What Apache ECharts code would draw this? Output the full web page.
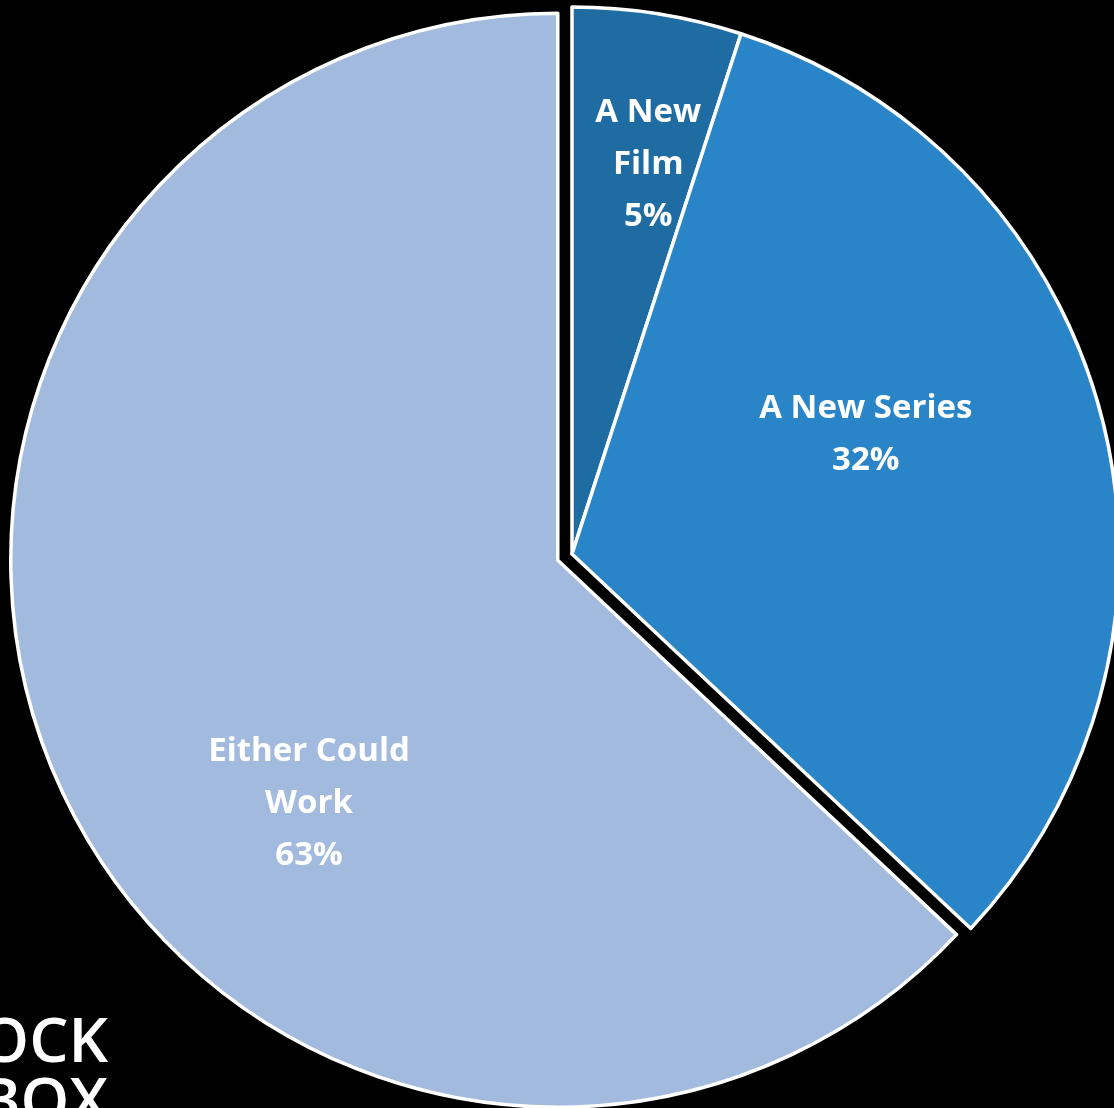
<!DOCTYPE html>
<html>
<head>
<meta charset="utf-8">
<title>Film or Series</title>
<script src="https://cdn.jsdelivr.net/npm/echarts@6/dist/echarts.min.js"></script>
<style>
  html, body { margin: 0; padding: 0; background: #000; }
  #chart { width: 1114px; height: 1108px; }
</style>
</head>
<body>
<div id="chart"></div>
<script>
// Survey answers: preferred format for a new story
const categories = ['A New\nFilm', 'A New Series', 'Either Could\nWork'];
const shares = [5, 32, 63];
const sliceColors = ['#1f6ca3', '#2985c7', '#a2badd'];
// The "Either" slice is pulled out from the rest
const pulledOut = [false, false, true];
// Fine placement of each label relative to its default inside spot
const labelShift = [[33, -116], [26, -51], [5, 134]];

const chart = echarts.init(document.getElementById('chart'), null, { renderer: 'canvas' });

const pieData = categories.map((name, i) => ({
  name: name,
  value: shares[i],
  selected: pulledOut[i],
  itemStyle: { color: sliceColors[i] }
}));

chart.setOption({
  backgroundColor: '#000000',
  animation: false,
  graphic: [
    {
      type: 'text',
      right: 1114 - 108,
      top: 1013,
      style: {
        text: 'OCK',
        fill: '#ffffff',
        font: '600 62px "Open Sans"',
        textAlign: 'right'
      }
    },
    {
      type: 'text',
      right: 1114 - 108,
      top: 1073,
      style: {
        text: 'BOX',
        fill: '#ffffff',
        font: '600 62px "Open Sans"',
        textAlign: 'right'
      }
    }
  ],
  series: [
    {
      type: 'pie',
      center: [572, 554],
      radius: 547,
      startAngle: 90,
      clockwise: true,
      selectedMode: 'single',
      selectedOffset: 15.5,
      avoidLabelOverlap: false,
      itemStyle: { borderColor: '#ffffff', borderWidth: 3.5 },
      label: {
        show: true,
        position: 'inside',
        color: '#ffffff',
        fontFamily: 'Open Sans',
        fontWeight: 700,
        fontSize: 33,
        lineHeight: 52,
        align: 'center',
        formatter: p => p.name + '\n' + p.value + '%'
      },
      labelLine: { show: false },
      labelLayout: params => ({ dx: labelShift[params.dataIndex][0], dy: labelShift[params.dataIndex][1] }),
      emphasis: { disabled: true },
      data: pieData
    }
  ]
});
</script>
</body>
</html>
